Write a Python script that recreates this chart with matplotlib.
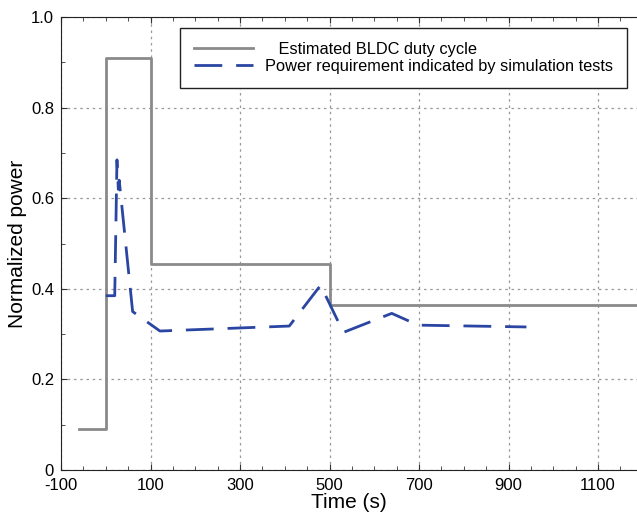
import numpy as np
import matplotlib.pyplot as plt
from matplotlib.ticker import MultipleLocator

plt.rcParams['font.family'] = ['Liberation Sans', 'DejaVu Sans']
plt.rcParams['axes.unicode_minus'] = False

# estimated BLDC duty cycle (step profile)
dutyT = [-60, 0, 0, 100, 100, 500, 500, 1250]
dutyP = [0.09, 0.09, 0.91, 0.91, 0.455, 0.455, 0.365, 0.365]

# power requirement from simulation tests
simT = [0, 20, 25, 28, 30, 60, 121, 410, 480, 531, 639, 698, 940]
simP = [0.385, 0.385, 0.685, 0.62, 0.64, 0.35, 0.307, 0.318, 0.408, 0.304, 0.346, 0.32, 0.316]

xticks = [-100, 100, 300, 500, 700, 900, 1100]
yticks = [0, 0.2, 0.4, 0.6, 0.8, 1.0]
ylabels = ['0', '0.2', '0.4', '0.6', '0.8', '1.0']

fig = plt.figure(figsize=(6.37, 5.2), dpi=100)
ax = fig.add_axes([0.0958, 0.096, 0.9042, 0.871])

ax.plot(dutyT, dutyP, color='#8a8a8a', lw=2, label='   Estimated BLDC duty cycle')
ax.plot(simT, simP, color='#2a45a2', lw=2, dashes=(10, 5),
        label='Power requirement indicated by simulation tests')

ax.set_xlim(-100, 1187)
ax.set_ylim(0, 1.0)
ax.set_xticks(xticks)
ax.set_yticks(yticks)
ax.set_yticklabels(ylabels)
ax.xaxis.set_minor_locator(MultipleLocator(50))
ax.yaxis.set_minor_locator(MultipleLocator(0.1))
ax.tick_params(which='both', direction='in', top=True, labelsize=12, length=4, color='#333333')
ax.tick_params(which='minor', length=3)
ax.tick_params(axis='x', pad=6)
ax.tick_params(axis='y', pad=5)

ax.grid(True, which='major', color='#999999', linestyle=(0, (2, 3)), lw=0.9)
ax.spines['right'].set_visible(False)
for s in ['left', 'bottom', 'top']:
    ax.spines[s].set_color('#222222')

ax.set_xlabel('Time (s)', fontsize=15, labelpad=0)
ax.set_ylabel('Normalized power', fontsize=15, labelpad=3)

leg = ax.legend(loc='upper right', bbox_to_anchor=(0.983, 0.976), fontsize=11.8,
                handlelength=3.6, handletextpad=0.75, borderpad=0.85,
                fancybox=False, framealpha=1, edgecolor='#222222',
                borderaxespad=0, labelspacing=0.1)
leg.get_frame().set_linewidth(1.0)

fig.savefig('out.png', dpi=100)
